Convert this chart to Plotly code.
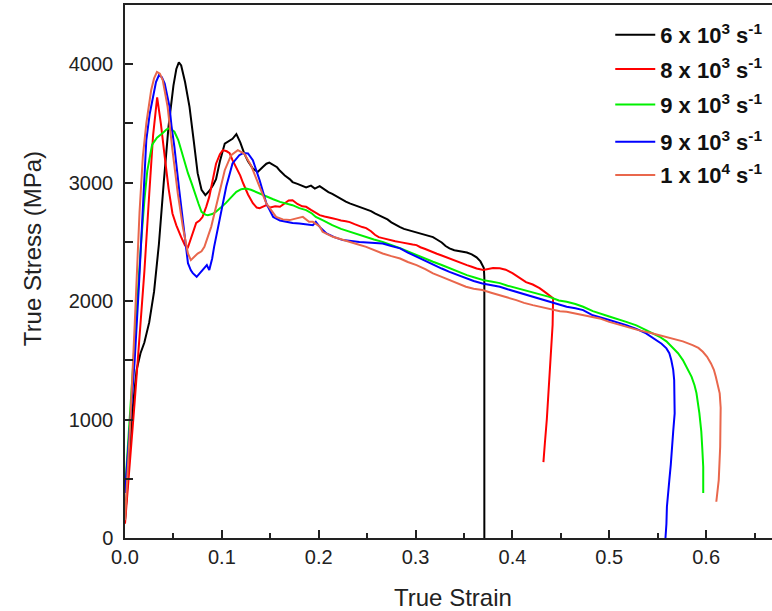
import plotly.graph_objects as go

names = ["6 x 10<sup>3</sup> s<sup>-1</sup>", "8 x 10<sup>3</sup> s<sup>-1</sup>",
         "9 x 10<sup>3</sup> s<sup>-1</sup>", "9 x 10<sup>3</sup> s<sup>-1</sup>",
         "1 x 10<sup>4</sup> s<sup>-1</sup>"]
colors = ["#000000", "#FF0000", "#00F000", "#0000FF", "#E9674C"]

black_strain = [0, 0.004, 0.008, 0.012, 0.016, 0.02, 0.025, 0.03, 0.035, 0.04, 0.045, 0.05, 0.053, 0.0556, 0.058, 0.062, 0.0666, 0.071, 0.075, 0.079, 0.083, 0.087, 0.091, 0.094, 0.098, 0.103, 0.107, 0.111, 0.115, 0.119, 0.123, 0.127, 0.132, 0.137, 0.142, 0.146, 0.149, 0.153, 0.157, 0.16, 0.165, 0.17, 0.173, 0.178, 0.183, 0.187, 0.192, 0.196, 0.201, 0.206, 0.21, 0.214, 0.219, 0.223, 0.228, 0.232, 0.237, 0.241, 0.245, 0.249, 0.254, 0.258, 0.262, 0.266, 0.271, 0.275, 0.279, 0.284, 0.288, 0.292, 0.297, 0.301, 0.305, 0.31, 0.314, 0.318, 0.322, 0.327, 0.331, 0.335, 0.34, 0.344, 0.348, 0.353, 0.358, 0.363, 0.367, 0.3705, 0.371, 0.371]
black_stress = [150, 650, 1100, 1420, 1560, 1650, 1820, 2080, 2480, 3000, 3480, 3820, 3960, 4015, 3990, 3850, 3640, 3350, 3080, 2940, 2895, 2930, 2980, 3030, 3180, 3330, 3350, 3370, 3410, 3340, 3250, 3180, 3120, 3090, 3130, 3160, 3170, 3150, 3130, 3100, 3060, 3030, 3005, 2990, 2975, 2960, 2975, 2950, 2970, 2940, 2920, 2905, 2880, 2860, 2840, 2825, 2810, 2800, 2790, 2780, 2760, 2740, 2725, 2705, 2690, 2665, 2645, 2625, 2610, 2600, 2590, 2580, 2570, 2560, 2550, 2540, 2520, 2495, 2465, 2445, 2430, 2425, 2420, 2410, 2395, 2370, 2335, 2280, 2200, 0]

red_strain = [0, 0.005, 0.01, 0.015, 0.02, 0.025, 0.029, 0.0332, 0.037, 0.041, 0.045, 0.049, 0.053, 0.058, 0.062, 0.065, 0.069, 0.0735, 0.077, 0.08, 0.084, 0.087, 0.091, 0.094, 0.098, 0.101, 0.105, 0.108, 0.111, 0.115, 0.119, 0.122, 0.127, 0.132, 0.136, 0.139, 0.143, 0.146, 0.15, 0.155, 0.16, 0.165, 0.169, 0.173, 0.178, 0.183, 0.187, 0.192, 0.196, 0.201, 0.206, 0.21, 0.214, 0.219, 0.223, 0.228, 0.232, 0.237, 0.241, 0.245, 0.249, 0.254, 0.258, 0.262, 0.266, 0.271, 0.275, 0.279, 0.284, 0.288, 0.292, 0.297, 0.301, 0.305, 0.31, 0.314, 0.318, 0.322, 0.327, 0.331, 0.335, 0.34, 0.344, 0.348, 0.353, 0.358, 0.363, 0.37, 0.375, 0.38, 0.387, 0.393, 0.4, 0.407, 0.414, 0.421, 0.428, 0.433, 0.438, 0.442, 0.4415, 0.4395, 0.4375, 0.4355, 0.4335, 0.432]
red_stress = [120, 600, 1150, 1700, 2250, 2900, 3400, 3720, 3500, 3220, 2950, 2740, 2640, 2540, 2470, 2455, 2560, 2660, 2680, 2710, 2800, 2880, 3040, 3160, 3240, 3275, 3265, 3250, 3190, 3130, 3060, 2995, 2900, 2827, 2790, 2785, 2800, 2810, 2790, 2800, 2796, 2830, 2850, 2852, 2820, 2800, 2796, 2770, 2750, 2726, 2715, 2705, 2700, 2690, 2680, 2675, 2667, 2650, 2635, 2625, 2616, 2590, 2560, 2540, 2532, 2520, 2510, 2505, 2498, 2490, 2485, 2478, 2473, 2455, 2440, 2425, 2413, 2400, 2385, 2372, 2363, 2345, 2330, 2315, 2304, 2290, 2275, 2262, 2270, 2280, 2278, 2265, 2236, 2200, 2160, 2140, 2110, 2080, 2051, 2025, 1800, 1500, 1250, 1000, 800, 640]

green_strain = [0, 0.004, 0.008, 0.0116, 0.0167, 0.02, 0.023, 0.028, 0.033, 0.039, 0.043, 0.046, 0.051, 0.055, 0.058, 0.062, 0.065, 0.069, 0.072, 0.076, 0.079, 0.083, 0.0855, 0.09, 0.094, 0.099, 0.104, 0.11, 0.115, 0.12, 0.125, 0.13, 0.135, 0.14, 0.146, 0.153, 0.16, 0.166, 0.173, 0.18, 0.187, 0.193, 0.197, 0.205, 0.214, 0.223, 0.232, 0.24, 0.249, 0.257, 0.266, 0.275, 0.284, 0.292, 0.301, 0.31, 0.318, 0.327, 0.335, 0.344, 0.353, 0.361, 0.37, 0.378, 0.387, 0.395, 0.404, 0.412, 0.421, 0.43, 0.438, 0.448, 0.456, 0.465, 0.473, 0.483, 0.49, 0.5, 0.5175, 0.528, 0.538, 0.545, 0.552, 0.559, 0.565, 0.571, 0.576, 0.581, 0.585, 0.588, 0.59, 0.593, 0.595, 0.596, 0.597, 0.597]
green_stress = [400, 900, 1450, 1860, 2500, 2850, 3100, 3320, 3380, 3420, 3450, 3460, 3430, 3360, 3274, 3170, 3080, 2990, 2911, 2820, 2754, 2730, 2726, 2735, 2754, 2790, 2827, 2880, 2922, 2945, 2951, 2940, 2922, 2900, 2880, 2860, 2838, 2825, 2810, 2785, 2768, 2740, 2711, 2680, 2641, 2610, 2585, 2565, 2543, 2520, 2500, 2475, 2447, 2420, 2388, 2360, 2332, 2305, 2278, 2250, 2219, 2200, 2177, 2165, 2152, 2130, 2110, 2095, 2078, 2058, 2036, 2005, 1994, 1975, 1952, 1915, 1895, 1870, 1825, 1795, 1755, 1730, 1699, 1660, 1614, 1560, 1502, 1430, 1361, 1290, 1224, 1055, 900, 760, 600, 380]

blue_strain = [0, 0.005, 0.01, 0.0145, 0.0184, 0.022, 0.0255, 0.0287, 0.032, 0.035, 0.038, 0.041, 0.043, 0.046, 0.048, 0.051, 0.056, 0.061, 0.065, 0.068, 0.07, 0.074, 0.077, 0.08, 0.0845, 0.087, 0.09, 0.092, 0.0976, 0.1045, 0.111, 0.118, 0.122, 0.127, 0.132, 0.136, 0.139, 0.146, 0.153, 0.16, 0.166, 0.173, 0.18, 0.187, 0.194, 0.197, 0.201, 0.208, 0.216, 0.225, 0.233, 0.242, 0.25, 0.258, 0.266, 0.275, 0.284, 0.292, 0.301, 0.31, 0.318, 0.327, 0.335, 0.344, 0.352, 0.36, 0.369, 0.378, 0.387, 0.395, 0.404, 0.412, 0.421, 0.43, 0.438, 0.449, 0.456, 0.465, 0.473, 0.483, 0.49, 0.5, 0.5175, 0.528, 0.538, 0.543, 0.548, 0.554, 0.559, 0.562, 0.564, 0.566, 0.567, 0.5675, 0.5675, 0.566, 0.565, 0.5635, 0.562, 0.5595, 0.559, 0.558]
blue_stress = [380, 900, 1500, 2150, 2750, 3359, 3580, 3724, 3850, 3907, 3890, 3837, 3760, 3640, 3480, 3302, 2937, 2574, 2320, 2260, 2236, 2205, 2230, 2262, 2304, 2262, 2360, 2458, 2684, 2965, 3162, 3232, 3250, 3246, 3190, 3100, 3021, 2824, 2711, 2680, 2669, 2660, 2655, 2648, 2641, 2669, 2627, 2571, 2540, 2515, 2505, 2500, 2495, 2492, 2487, 2465, 2445, 2410, 2374, 2340, 2304, 2275, 2247, 2220, 2192, 2170, 2149, 2135, 2121, 2100, 2078, 2057, 2036, 2015, 1994, 1966, 1952, 1940, 1924, 1880, 1865, 1840, 1797, 1765, 1727, 1700, 1671, 1640, 1601, 1560, 1502, 1420, 1333, 1200, 1052, 900, 770, 620, 489, 264, 120, 0]

orange_strain = [0, 0.005, 0.01, 0.015, 0.0184, 0.022, 0.027, 0.03, 0.033, 0.036, 0.039, 0.044, 0.049, 0.0545, 0.0597, 0.065, 0.068, 0.071, 0.075, 0.079, 0.082, 0.089, 0.096, 0.103, 0.1096, 0.1165, 0.123, 0.13, 0.139, 0.146, 0.156, 0.163, 0.17, 0.177, 0.1836, 0.19, 0.194, 0.201, 0.204, 0.2146, 0.223, 0.232, 0.24, 0.249, 0.257, 0.266, 0.275, 0.284, 0.292, 0.301, 0.31, 0.318, 0.327, 0.335, 0.344, 0.352, 0.36, 0.369, 0.378, 0.387, 0.395, 0.404, 0.412, 0.421, 0.43, 0.438, 0.449, 0.456, 0.465, 0.473, 0.483, 0.49, 0.5, 0.5175, 0.53, 0.545, 0.555, 0.565, 0.576, 0.586, 0.592, 0.5966, 0.601, 0.605, 0.608, 0.61, 0.612, 0.614, 0.615, 0.615, 0.6145, 0.613, 0.6105]
orange_stress = [150, 900, 1800, 2750, 3218, 3500, 3780, 3880, 3935, 3920, 3865, 3640, 3274, 2909, 2627, 2402, 2346, 2370, 2402, 2420, 2458, 2627, 2880, 3105, 3232, 3274, 3246, 3148, 2965, 2824, 2711, 2690, 2684, 2700, 2711, 2669, 2669, 2630, 2585, 2543, 2520, 2500, 2480, 2458, 2430, 2402, 2380, 2360, 2330, 2304, 2270, 2234, 2205, 2177, 2150, 2121, 2105, 2093, 2070, 2051, 2030, 2008, 1985, 1966, 1950, 1938, 1915, 1910, 1895, 1882, 1860, 1854, 1825, 1783, 1755, 1727, 1705, 1685, 1660, 1629, 1605, 1572, 1530, 1474, 1420, 1361, 1290, 1221, 1100, 996, 770, 489, 306]

xs = [black_strain, red_strain, green_strain, blue_strain, orange_strain]
ys = [black_stress, red_stress, green_stress, blue_stress, orange_stress]

x_ticks = [0, 0.1, 0.2, 0.3, 0.4, 0.5, 0.6]
x_labels = ["0.0", "0.1", "0.2", "0.3", "0.4", "0.5", "0.6"]
y_ticks = [0, 1000, 2000, 3000, 4000]
x_title = "True Strain"
y_title = "True Stress (MPa)"

font = "Arial, Liberation Sans, sans-serif"
legend_ids = ["legend", "legend2", "legend3", "legend4", "legend5"]
legend_tops = [0.983, 0.919, 0.8522, 0.7825, 0.7203]

fig = go.Figure()
for x, y, n, c, lid in zip(xs, ys, names, colors, legend_ids):
    fig.add_trace(go.Scatter(x=x, y=y, mode="lines", name="<b>" + n + "</b>",
                             legend=lid, showlegend=True, line=dict(color=c, width=2)))

legend_layouts = {}
for lid, top in zip(legend_ids, legend_tops):
    legend_layouts[lid] = dict(x=0.75, y=top, xanchor="left", yanchor="top",
                               font=dict(size=22, family=font, color="#111"),
                               bgcolor="rgba(0,0,0,0)", itemwidth=40)

fig.update_layout(
    width=772, height=611,
    margin=dict(l=125, r=0, t=5, b=73),
    paper_bgcolor="white", plot_bgcolor="white",
    showlegend=True,
    font=dict(family=font, color="#222"),
    xaxis=dict(range=[0, 0.668], tickvals=x_ticks, ticktext=x_labels,
               ticks="inside", ticklen=8, tickwidth=1.5, tickcolor="#222",
               showline=True, linewidth=1.5, linecolor="#222", mirror=True,
               showgrid=False, zeroline=False,
               minor=dict(dtick=0.05, ticks="inside", ticklen=5, tickwidth=1.5, tickcolor="#222"),
               tickfont=dict(size=20)),
    yaxis=dict(range=[0, 4500], tickvals=y_ticks,
               ticks="inside", ticklen=8, tickwidth=1.5, tickcolor="#222",
               showline=True, linewidth=1.5, linecolor="#222",
               showgrid=False, zeroline=False, ticklabelstandoff=6,
               minor=dict(dtick=500, ticks="inside", ticklen=8, tickwidth=1.5, tickcolor="#222"),
               tickfont=dict(size=20)),
    annotations=[
        dict(text=x_title, xref="paper", yref="paper", x=0.507, y=-0.1107,
             xanchor="center", yanchor="middle", showarrow=False,
             font=dict(size=24, family=font, color="#222")),
        dict(text=y_title, xref="paper", yref="paper", x=-0.1437, y=0.542,
             xanchor="center", yanchor="middle", showarrow=False, textangle=-90,
             font=dict(size=24, family=font, color="#222")),
    ],
    **legend_layouts,
)

fig.write_html("out.html")
